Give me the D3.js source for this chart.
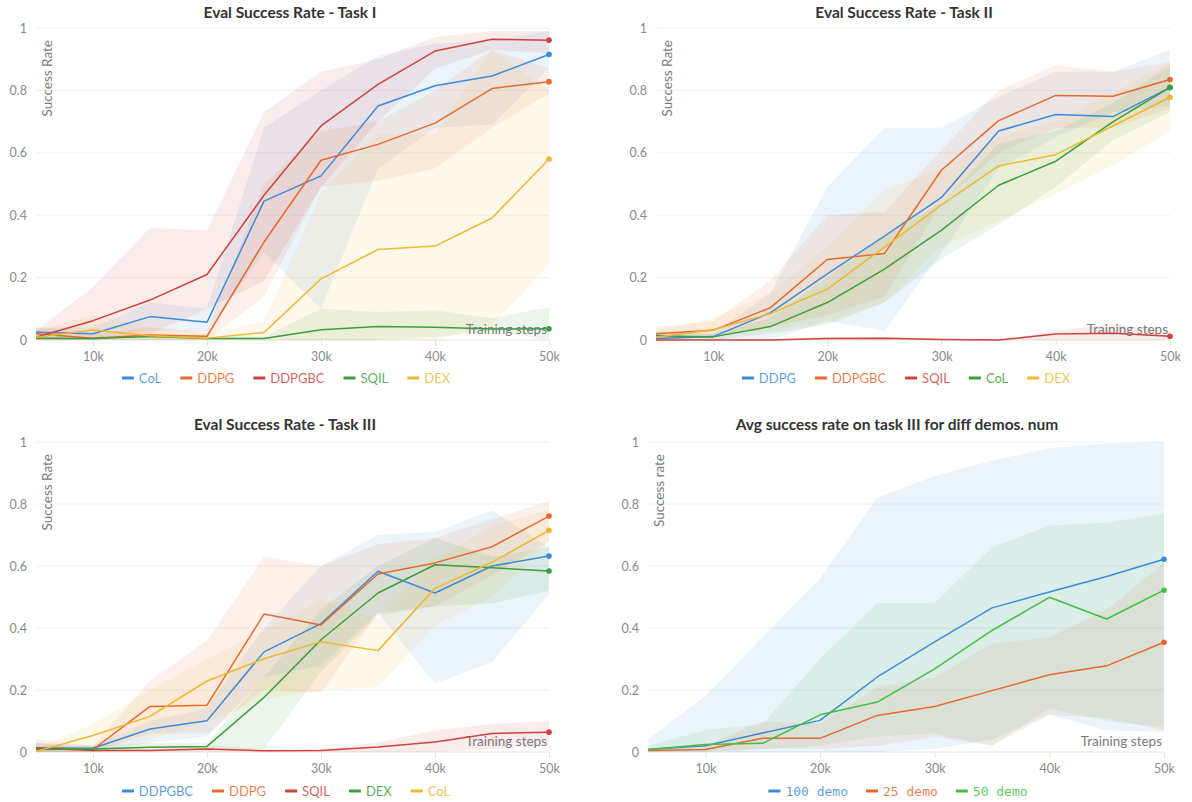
<!DOCTYPE html>
<html><head><meta charset="utf-8">
<script src="https://cdn.jsdelivr.net/npm/d3@7"></script>
<style>
html,body{margin:0;padding:0;background:#fff;}
svg{display:block;font-family:Lato,"Noto Sans",sans-serif;}
</style></head>
<body><svg id="c" width="1192" height="802"></svg>
<script>
const steps = [5000,10000,15000,20000,25000,30000,35000,40000,45000,50000];
const xTicks = [10000,20000,30000,40000,50000];
const yTicks = [0,0.2,0.4,0.6,0.8,1];

// ---- Task I
const t1Names = ["CoL","DDPG","DDPGBC","SQIL","DEX"];
const t1Mean = [
  [0.025,0.02,0.075,0.057,0.445,0.526,0.75,0.815,0.846,0.915],
  [0.02,0.006,0.016,0.012,0.314,0.576,0.627,0.695,0.806,0.828],
  [0.009,0.062,0.128,0.21,0.464,0.686,0.819,0.926,0.964,0.961],
  [0.006,0.005,0.011,0.005,0.005,0.033,0.043,0.041,0.035,0.036],
  [0.009,0.032,0.014,0.006,0.024,0.196,0.29,0.301,0.391,0.58]
];
const t1Upper = [
  [0.04,0.04,0.12,0.1,0.68,0.80,0.91,0.95,0.96,0.99],
  [0.04,0.02,0.04,0.03,0.5,0.67,0.7,0.8,0.93,0.87],
  [0.03,0.17,0.36,0.35,0.73,0.86,0.9,0.97,0.99,0.99],
  [0.01,0.01,0.02,0.01,0.01,0.1,0.09,0.095,0.07,0.105],
  [0.03,0.08,0.04,0.02,0.06,0.47,0.66,0.66,0.93,0.8]
];
const t1Lower = [
  [0,0,0.03,0.03,0.28,0.1,0.55,0.68,0.69,0.87],
  [0,0,0,0,0.14,0.49,0.51,0.55,0.68,0.79],
  [0,0,0.02,0.1,0.19,0.49,0.7,0.87,0.93,0.92],
  [0,0,0,0,0,0,0,0.01,0.03,0],
  [0,0,0,0,0,0,0,0,0.05,0.24]
];

// ---- Task II
const t2Names = ["DDPG","DDPGBC","SQIL","CoL","DEX"];
const t2Mean = [
  [0.005,0.011,0.087,0.212,0.333,0.457,0.67,0.723,0.716,0.809],
  [0.02,0.031,0.103,0.258,0.277,0.545,0.703,0.784,0.781,0.835],
  [0.0,0.0,0.0,0.005,0.006,0.002,0.0,0.019,0.022,0.012],
  [0.014,0.01,0.043,0.12,0.227,0.352,0.496,0.573,0.699,0.81],
  [0.009,0.033,0.084,0.163,0.298,0.433,0.558,0.594,0.686,0.778]
];
const t2Upper = [
  [0.02,0.02,0.15,0.49,0.68,0.68,0.78,0.86,0.86,0.93],
  [0.04,0.06,0.19,0.4,0.41,0.61,0.8,0.88,0.86,0.89],
  [0,0,0,0.01,0.01,0.005,0,0.03,0.05,0.03],
  [0.03,0.02,0.07,0.2,0.33,0.44,0.63,0.67,0.76,0.88],
  [0.03,0.07,0.15,0.3,0.48,0.55,0.65,0.7,0.79,0.89]
];
const t2Lower = [
  [0,0,0,0.06,0.03,0.28,0.55,0.65,0.73,0.75],
  [0,0.01,0.04,0.08,0.14,0.44,0.6,0.68,0.68,0.74],
  [0,0,0,0,0,0,0,0,0,0],
  [0,0,0.02,0.05,0.12,0.26,0.37,0.49,0.64,0.73],
  [0,0.01,0.03,0.06,0.12,0.3,0.38,0.47,0.56,0.67]
];

// ---- Task III
const t3Names = ["DDPGBC","DDPG","SQIL","DEX","CoL"];
const t3Mean = [
  [0.013,0.012,0.074,0.101,0.323,0.414,0.583,0.513,0.6,0.632],
  [0.013,0.008,0.147,0.151,0.445,0.41,0.574,0.61,0.662,0.761],
  [0.013,0.005,0.005,0.01,0.004,0.005,0.016,0.032,0.06,0.064],
  [0.008,0.01,0.015,0.018,0.176,0.362,0.513,0.604,0.594,0.584],
  [0.002,0.053,0.115,0.229,0.301,0.356,0.327,0.528,0.612,0.715]
];
const t3Upper = [
  [0.03,0.02,0.1,0.14,0.4,0.6,0.7,0.71,0.78,0.66],
  [0.04,0.02,0.23,0.36,0.63,0.6,0.67,0.69,0.75,0.81],
  [0.03,0.01,0.01,0.02,0.01,0.01,0.03,0.07,0.09,0.1],
  [0.02,0.02,0.03,0.03,0.24,0.46,0.6,0.69,0.63,0.66],
  [0.01,0.09,0.2,0.3,0.39,0.49,0.43,0.62,0.73,0.78]
];
const t3Lower = [
  [0,0,0.03,0.05,0.24,0.28,0.45,0.22,0.29,0.51],
  [0,0,0.06,0.06,0.2,0.19,0.45,0.47,0.57,0.68],
  [0,0,0,0,0,0,0,0,0.01,0.02],
  [0,0,0.01,0.01,0.01,0.26,0.44,0.47,0.48,0.52],
  [0,0.01,0.04,0.1,0.17,0.2,0.21,0.41,0.5,0.68]
];

// ---- Demos
const t4Names = ["100 demo","25 demo","50 demo"];
const t4Mean = [
  [0.008,0.02,0.061,0.102,0.242,0.355,0.465,0.516,0.566,0.622],
  [0.005,0.008,0.044,0.044,0.118,0.147,0.198,0.249,0.278,0.354],
  [0.008,0.024,0.028,0.12,0.161,0.268,0.392,0.499,0.429,0.522]
];
const t4Upper = [
  [0.04,0.18,0.37,0.56,0.82,0.89,0.94,0.98,0.995,1.0],
  [0.01,0.02,0.1,0.09,0.21,0.24,0.35,0.37,0.46,0.61],
  [0.02,0.07,0.09,0.3,0.48,0.48,0.66,0.73,0.74,0.77]
];
const t4Lower = [
  [0,0,0,0,0,0.01,0.04,0.12,0.07,0.065],
  [0,0,0.01,0.01,0.02,0.05,0.02,0.12,0.11,0.07],
  [0,0,0.01,0.02,0.05,0.06,0.02,0.14,0.1,0.08]
];

const C = {blue:"#3b8bd9", orange:"#e8692d", red:"#cf433e", green:"#3a9e3a", yellow:"#efb830", lime:"#42bf42"};

const svg = d3.select("#c");

function panel(cfg){
  const g = svg.append("g");
  const x = d3.scaleLinear().domain([5000,50000]).range([cfg.x0,cfg.x1]);
  const y = d3.scaleLinear().domain([0,1]).range([cfg.y0,cfg.y1]);
  // grid
  g.selectAll("line.grid").data(yTicks).join("line")
    .attr("x1",cfg.x0).attr("x2",cfg.x1)
    .attr("y1",d=>y(d)).attr("y2",d=>y(d))
    .attr("stroke", d=> d===0 ? "#e2e2e2" : "#f0f0f0").attr("stroke-width",1);
  // y axis labels
  const ya = g.append("g").attr("transform",`translate(${cfg.x0},0)`)
    .call(d3.axisLeft(y).tickValues(yTicks).tickFormat(d3.format("~g")).tickSize(0).tickPadding(cfg.yPad));
  ya.select(".domain").remove();
  ya.selectAll("text").attr("fill","#8a8a8a").style("font-size","12.5px").style("font-family","Lato, sans-serif");
  // x axis
  const xa = g.append("g").attr("transform",`translate(0,${cfg.y0})`)
    .call(d3.axisBottom(x).tickValues(xTicks).tickFormat(d=>d/1000+"k").tickSize(6).tickPadding(6));
  xa.select(".domain").remove();
  xa.selectAll("line").attr("stroke","#e4e4e4");
  xa.selectAll("text").attr("fill","#8a8a8a").style("font-size","12.5px").style("font-family","Lato, sans-serif");
  // bands
  const area = d3.area().x((d,i)=>x(steps[i])).y0(d=>y(d[0])).y1(d=>y(d[1]));
  cfg.names.forEach((n,k)=>{
    const pts = steps.map((s,i)=>[cfg.lower[k][i],cfg.upper[k][i]]);
    g.append("path").attr("d",area(pts)).attr("fill",cfg.colors[k]).attr("fill-opacity",0.1);
  });
  // axis labels
  g.append("text").attr("transform",`translate(${cfg.x0+16},${cfg.y1+12}) rotate(-90)`)
    .attr("text-anchor","end").attr("fill","#7a7a7a").style("font-size","13.5px").text(cfg.ylabel);
  g.append("text").attr("x",cfg.x1-2).attr("y",cfg.y0-6).attr("text-anchor","end")
    .attr("fill","#7a7a7a").style("font-size","13.5px").text("Training steps");
  // lines
  const line = d3.line().x((d,i)=>x(steps[i])).y(d=>y(d));
  cfg.names.forEach((n,k)=>{
    g.append("path").attr("d",line(cfg.mean[k])).attr("fill","none")
      .attr("stroke",cfg.colors[k]).attr("stroke-width",1.5).attr("stroke-linejoin","round");
    g.append("circle").attr("cx",x(steps[9])).attr("cy",y(cfg.mean[k][9])).attr("r",2.8).attr("fill",cfg.colors[k]);
  });
  // title
  g.append("text").attr("x",cfg.tx).attr("y",cfg.ty).attr("text-anchor","middle")
    .attr("fill","#333").style("font-size","15.5px").style("font-weight","bold").text(cfg.title);
  // legend
  const lg = g.append("g");
  let cx = 0;
  cfg.names.forEach((n,k)=>{
    const it = lg.append("g").attr("transform",`translate(${cx},0)`);
    it.append("line").attr("x1",0).attr("x2",12).attr("y1",0).attr("y2",0)
      .attr("stroke",cfg.colors[k]).attr("stroke-width",3);
    const t = it.append("text").attr("x",17).attr("y",4.5).attr("fill",cfg.colors[k]).attr("fill-opacity",0.85)
      .style("font-size","13px").style("font-family",cfg.legendFont).text(n);
    const w = t.node().getComputedTextLength();
    cx += 17 + w + cfg.legendGap;
  });
  const total = cx - cfg.legendGap;
  lg.attr("transform",`translate(${cfg.lx - total/2},${cfg.ly})`);
}

panel({x0:36,x1:549,y0:340,y1:28,yPad:9,names:t1Names,mean:t1Mean,upper:t1Upper,lower:t1Lower,
  colors:[C.blue,C.orange,C.red,C.green,C.yellow],title:"Eval Success Rate - Task I",tx:290,ty:18,
  ylabel:"Success Rate",lx:286,ly:378,legendGap:19,legendFont:"Lato, sans-serif"});
panel({x0:656,x1:1170,y0:340,y1:28,yPad:9,names:t2Names,mean:t2Mean,upper:t2Upper,lower:t2Lower,
  colors:[C.blue,C.orange,C.red,C.green,C.yellow],title:"Eval Success Rate - Task II",tx:904,ty:18,
  ylabel:"Success Rate",lx:906,ly:378,legendGap:19,legendFont:"Lato, sans-serif"});
panel({x0:36,x1:549,y0:752,y1:442,yPad:9,names:t3Names,mean:t3Mean,upper:t3Upper,lower:t3Lower,
  colors:[C.blue,C.orange,C.red,C.green,C.yellow],title:"Eval Success Rate - Task III",tx:285,ty:430,
  ylabel:"Success Rate",lx:286,ly:791,legendGap:19,legendFont:"Lato, sans-serif"});
panel({x0:648,x1:1164,y0:752,y1:442,yPad:9,names:t4Names,mean:t4Mean,upper:t4Upper,lower:t4Lower,
  colors:[C.blue,C.orange,C.lime],title:"Avg success rate on task III for diff demos. num",tx:897,ty:430,
  ylabel:"Success rate",lx:898,ly:791,legendGap:18,legendFont:"'DejaVu Sans Mono', monospace"});
</script></body></html>
